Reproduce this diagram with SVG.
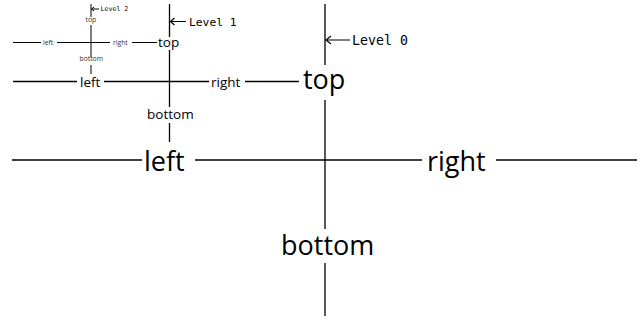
<svg xmlns="http://www.w3.org/2000/svg" width="639" height="320" viewBox="0 0 639 320">
<style>
.ln{stroke:#000;fill:none;stroke-width:1.3}
.ln1{stroke:#000;fill:none;stroke-width:1.2}
.ln2{stroke:#000;fill:none;stroke-width:1}
.t0{font-family:"Open Sans","Noto Sans",sans-serif;font-size:27px;fill:#000}
.t1{font-family:"Open Sans","Noto Sans",sans-serif;font-size:13.5px;fill:#000}
.t2{font-family:"Open Sans","Noto Sans",sans-serif;font-size:6.8px;fill:#3a3028}
.lab{font-family:"DejaVu Sans Mono",monospace;fill:#000}
</style>
<rect width="639" height="320" fill="#fff"/>
<g id="connectors">
  <!-- level 0 -->
  <path class="ln" d="M325 4V65M325 100V229M325 263V316"/>
  <path class="ln" d="M12 160H142M195 160H422M496 160H637"/>
  <path class="ln1" d="M350 40H326M331 36L326 40L331 44"/>
  <!-- level 1 -->
  <path class="ln" d="M169.5 4V37M169.5 50V107M169.5 123V142"/>
  <path class="ln" d="M13 81.5H77M104 81.5H209M245 81.5H299"/>
  <path class="ln1" d="M186 21.5H170.5M174.5 18L170.5 21.5L174.5 25"/>
  <!-- level 2 -->
  <path class="ln2" d="M91 4V17M91 25V57M91 65V74"/>
  <path class="ln2" d="M13 42.5H41M57 42.5H110M132 42.5H157"/>
  <path class="ln2" d="M99 9H91.5M94 7L91.5 9L94 11"/>
</g>
<g id="level0">
  <text class="t0" x="303" y="89">top</text>
  <text class="t0" x="281" y="255">bottom</text>
  <text class="t0" x="144" y="171">left</text>
  <text class="t0" x="427" y="171">right</text>
  <text class="lab" x="352" y="44.5" font-size="13.3">Level 0</text>
</g>
<g id="level1">
  <text class="t1" x="158" y="47">top</text>
  <text class="t1" x="147" y="119">bottom</text>
  <text class="t1" x="80" y="86.5">left</text>
  <text class="t1" x="211" y="86.5">right</text>
  <text class="lab" x="189" y="25.5" font-size="11.3">Level 1</text>
</g>
<g id="level2">
  <text class="t2" x="85.5" y="22">top</text>
  <text class="t2" x="79.5" y="61">bottom</text>
  <text class="t2" x="43" y="45">left</text>
  <text class="t2" x="113" y="45">right</text>
  <text class="lab" x="100.5" y="11.3" font-size="6.6">Level 2</text>
</g>
</svg>
